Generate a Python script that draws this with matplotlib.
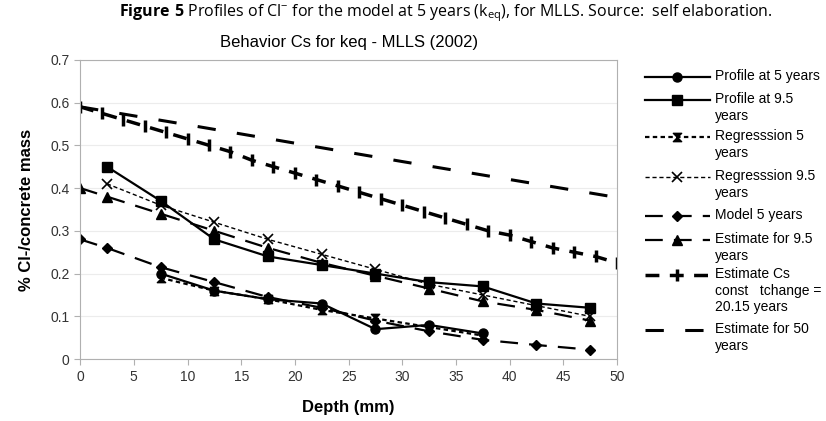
import numpy as np
import matplotlib
matplotlib.use("Agg")
from matplotlib import pyplot as plt
from matplotlib.path import Path

# ---- data ----
depth_5 = [7.5, 12.5, 17.5, 22.5, 27.5, 32.5, 37.5]
profile_5 = [0.20, 0.16, 0.14, 0.13, 0.07, 0.08, 0.06]

depth_95 = [2.5, 7.5, 12.5, 17.5, 22.5, 27.5, 32.5, 37.5, 42.5, 47.5]
profile_95 = [0.45, 0.37, 0.28, 0.24, 0.22, 0.20, 0.18, 0.17, 0.13, 0.12]

reg_5 = [0.19, 0.16, 0.14, 0.115, 0.095, 0.075, 0.055]
reg_95 = [0.41, 0.36, 0.32, 0.28, 0.245, 0.21, 0.175, 0.15, 0.125, 0.10]

depth_model = [0, 2.5, 7.5, 12.5, 17.5, 22.5, 27.5, 32.5, 37.5, 42.5, 47.5]
model_5 = [0.28, 0.26, 0.215, 0.18, 0.145, 0.12, 0.09, 0.065, 0.045, 0.033, 0.022]
est_95 = [0.40, 0.38, 0.34, 0.30, 0.26, 0.225, 0.195, 0.165, 0.135, 0.115, 0.09]

depth_cs = [0, 2, 4, 6, 8, 10, 12, 14, 16, 18, 20, 22, 24, 26, 28, 30, 32, 34,
            36, 38, 40, 42, 44, 46, 48, 50]
est_cs = [0.59, 0.575, 0.56, 0.545, 0.53, 0.515, 0.50, 0.485, 0.465, 0.45,
          0.435, 0.42, 0.405, 0.39, 0.375, 0.36, 0.345, 0.33, 0.315, 0.30,
          0.29, 0.275, 0.26, 0.25, 0.24, 0.225]

depth_50 = [0, 10, 20, 30, 40, 50]
est_50 = [0.59, 0.548, 0.505, 0.462, 0.42, 0.378]

labels = ['Profile at 5 years', 'Profile at 9.5\nyears', 'Regresssion 5\nyears',
          'Regresssion 9.5\nyears', 'Model 5 years', 'Estimate for 9.5\nyears',
          'Estimate Cs\nconst   tchange =\n20.15 years', 'Estimate for 50\nyears']

plt.rcParams['font.family'] = ['Liberation Sans', 'DejaVu Sans']
plt.rcParams['mathtext.fontset'] = 'custom'
plt.rcParams['mathtext.rm'] = 'Open Sans'
plt.rcParams['mathtext.bf'] = 'Open Sans:bold'

hourglass = Path([(-1, 1), (1, 1), (-1, -1), (1, -1), (-1, 1)],
                 [Path.MOVETO, Path.LINETO, Path.LINETO, Path.LINETO, Path.CLOSEPOLY])

k = 'black'
styles = [
    dict(lw=1.6, ls='-', marker='o', ms=6.5),
    dict(lw=1.6, ls='-', marker='s', ms=6.5),
    dict(lw=1.6, dashes=(2, 1.5), marker=hourglass, ms=6),
    dict(lw=1.0, dashes=(3, 2), marker='x', ms=7, mew=1.2),
    dict(lw=1.6, dashes=(8, 5), marker='D', ms=5),
    dict(lw=1.6, dashes=(8, 5), marker='^', ms=6.5),
    dict(lw=2.5, dashes=(4, 3), marker='|', ms=9, mew=2.5),
    dict(lw=2.2, dashes=(6, 7), marker=None),
]
series = [(depth_5, profile_5), (depth_95, profile_95), (depth_5, reg_5),
          (depth_95, reg_95), (depth_model, model_5), (depth_model, est_95),
          (depth_cs, est_cs), (depth_50, est_50)]

fig = plt.figure(figsize=(8.26, 4.21), dpi=100)
ax = fig.add_axes([0.097, 0.147, 0.650, 0.711])

for (x, y), st in zip(series, styles):
    ax.plot(x, y, color=k, **st)

ax.set_xlim(0, 50)
ax.set_ylim(0, 0.7)
ax.set_xticks(np.arange(0, 51, 5))
ax.set_yticks(np.arange(0, 0.71, 0.1))
ax.set_yticklabels(['0', '0.1', '0.2', '0.3', '0.4', '0.5', '0.6', '0.7'])
ax.yaxis.grid(True, color='#ececec', lw=0.8)
ax.set_axisbelow(True)
for s in ax.spines.values():
    s.set_color('#b0b0b0')
ax.tick_params(colors='#b0b0b0', labelcolor='#333333', labelsize=10, length=4)

ax.set_xlabel('Depth (mm)', fontsize=12, fontweight='bold', labelpad=12)
ax.set_ylabel('% Cl-/concrete mass', fontsize=12, fontweight='bold', labelpad=12)
ax.set_title('Behavior Cs for keq - MLLS (2002)', fontsize=12, pad=9)

fig.text(0.54, 0.968,
         r'$\mathbf{Figure\ 5}$ Profiles of Cl$^{\mathrm{-}}$ for the model at 5 years (k$_{\mathrm{eq}}$), for MLLS. Source:  self elaboration.',
         ha='center', va='center', fontsize=11.5, family='Open Sans')

# legend drawn by hand so the sample sits on the first text line
lg = fig.add_axes([0, 0, 1, 1])
lg.set_xlim(0, 826)
lg.set_ylim(421, 0)
lg.axis('off')
entry_y = [77, 100, 137, 177, 216, 240, 275, 330]
for yy, st, lab in zip(entry_y, styles, labels):
    line_st = {kk: v for kk, v in st.items() if kk not in ('marker', 'ms', 'mew')}
    lg.plot([645, 710], [yy, yy], color=k, **line_st)
    if st['marker'] is not None:
        lg.plot([677], [yy], color=k, ls='none', marker=st['marker'], ms=st['ms'],
                mew=st.get('mew', 1))
    lg.text(715, yy, lab, fontsize=10, va='top', ha='left', linespacing=1.25,
            transform=lg.transData).set_y(yy - 8)

fig.savefig('out.png', dpi=100)
